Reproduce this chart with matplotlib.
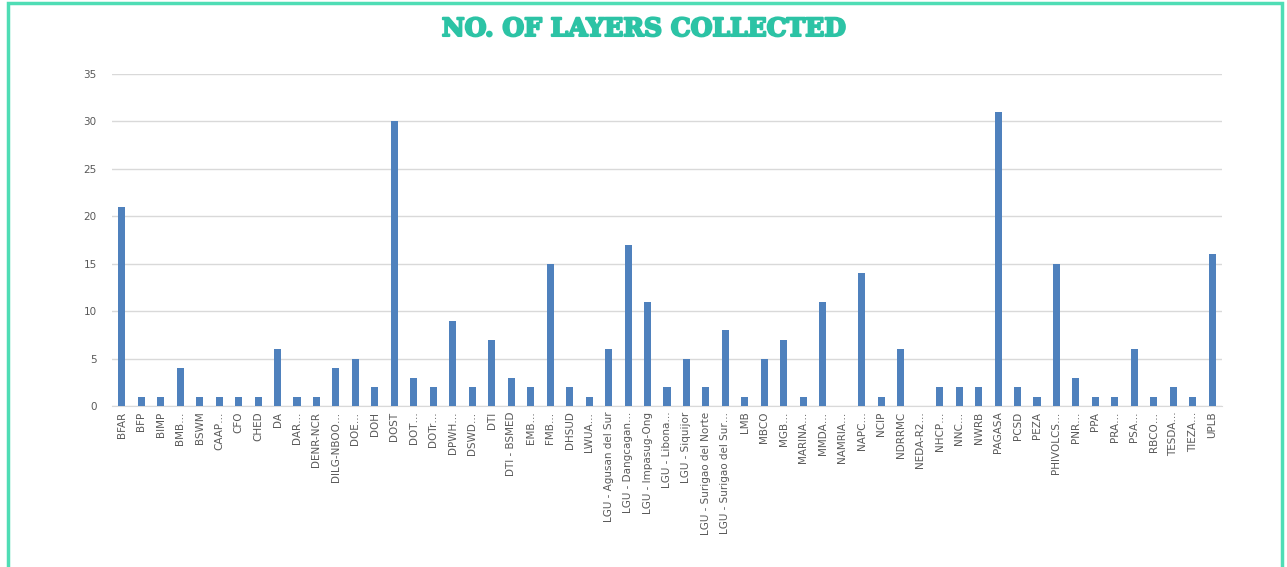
import matplotlib
matplotlib.use('Agg')
import matplotlib.pyplot as plt
import matplotlib.patheffects as pe
from matplotlib.patches import Rectangle

# Agencies and number of layers collected
agencies = ['BFAR', 'BFP', 'BIMP', 'BMB…', 'BSWM', 'CAAP…', 'CFO', 'CHED', 'DA', 'DAR…',
            'DENR-NCR', 'DILG-NBOO…', 'DOE…', 'DOH', 'DOST', 'DOT…', 'DOTr…', 'DPWH…',
            'DSWD…', 'DTI', 'DTI - BSMED', 'EMB…', 'FMB…', 'DHSUD', 'LWUA…',
            'LGU - Agusan del Sur', 'LGU - Dangcagan…', 'LGU - Impasug-Ong', 'LGU - Libona…',
            'LGU - Siquijor', 'LGU - Surigao del Norte', 'LGU - Surigao del Sur…', 'LMB',
            'MBCO', 'MGB…', 'MARINA…', 'MMDA…', 'NAMRIA…', 'NAPC…', 'NCIP', 'NDRRMC',
            'NEDA-R2…', 'NHCP…', 'NNC…', 'NWRB', 'PAGASA', 'PCSD', 'PEZA', 'PHIVOLCS…',
            'PNR…', 'PPA', 'PRA…', 'PSA…', 'RBCO…', 'TESDA…', 'TIEZA…', 'UPLB']
layers = [21, 1, 1, 4, 1, 1, 1, 1, 6, 1,
          1, 4, 5, 2, 30, 3, 2, 9,
          2, 7, 3, 2, 15, 2, 1,
          6, 17, 11, 2,
          5, 2, 8, 1,
          5, 7, 1, 11, 0, 14, 1, 6,
          0, 2, 2, 2, 31, 2, 1, 15,
          3, 1, 1, 6, 1, 2, 1, 16]

fig = plt.figure(figsize=(12.87, 5.67), dpi=100)
ax = fig.add_axes([112 / 1287, 161 / 567, 1110 / 1287, 332 / 567])

x = range(len(agencies))
ax.bar(x, layers, width=0.36, color='#4F81BD', zorder=3)

ax.set_ylim(0, 35)
ax.set_yticks(range(0, 36, 5))
ax.set_xlim(-0.5, len(agencies) - 0.5)
ax.set_xticks(list(x))
ax.set_xticklabels(agencies, rotation=90, fontsize=7.5, color='#595959')
ax.tick_params(axis='y', labelsize=7.5, labelcolor='#595959', length=0, pad=11)
ax.tick_params(axis='x', length=0, pad=4)
ax.grid(axis='y', color='#d9d9d9', linewidth=1, zorder=0)
for s in ['top', 'right', 'left']:
    ax.spines[s].set_visible(False)
ax.spines['bottom'].set_color('#d9d9d9')

fig.text(0.5, 1 - 29 / 567, 'NO. OF LAYERS COLLECTED', ha='center', va='center',
         fontsize=18, fontweight='heavy', family='DejaVu Serif', color='#2CC3A5',
         path_effects=[pe.withStroke(linewidth=1.5, foreground='#2CC3A5')])

# green frame around the chart
fig.patches.append(Rectangle((8 / 1287, -0.05), 1274 / 1287, 1.05 - 3 / 567,
                             transform=fig.transFigure, fill=False,
                             edgecolor='#4FDDB5', linewidth=2.5))

fig.savefig('out.png', dpi=100)
